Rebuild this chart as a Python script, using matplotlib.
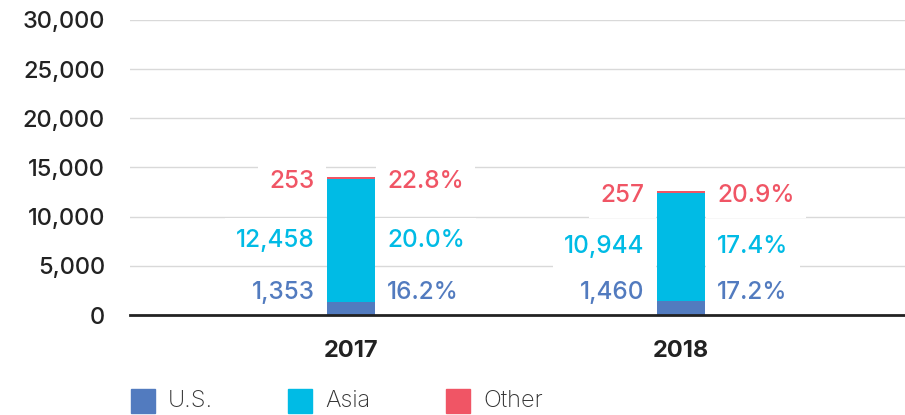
import numpy as np
import matplotlib.pyplot as plt

# Data
years = ['2017', '2018']
series = ['U.S.', 'Asia', 'Other']
us = [1353, 1460]
asia = [12458, 10944]
other = [253, 257]
us_pct = ['16.2%', '17.2%']
asia_pct = ['20.0%', '17.4%']
other_pct = ['22.8%', '20.9%']

colors = ['#527bbf', '#00bbe5', '#f05565']

plt.rcParams['font.family'] = ['Inter', 'DejaVu Sans']

fig = plt.figure(figsize=(9.05, 4.15), dpi=100)
ax = fig.add_axes([130 / 905, 1 - 315 / 415, 775 / 905, 295 / 415])

x = np.arange(len(years))
w = 0.145
values = [us, asia, other]
bottom = np.zeros(len(years))
for vals, c in zip(values, colors):
    ax.bar(x, vals, w, bottom=bottom, color=c, zorder=3)
    bottom += np.array(vals)

ax.set_ylim(0, 30000)
ax.set_xlim(-0.67, 1.68)
ax.set_yticks(range(0, 30001, 5000))
ax.set_yticklabels([f'{v:,}' for v in range(0, 30001, 5000)], fontsize=17,
                   fontweight='medium', color='#222222')
ax.tick_params(axis='y', length=0, pad=18)
ax.set_xticks(x)
ax.set_xticklabels(years, fontsize=17, fontweight='bold', color='#222222')
ax.tick_params(axis='x', length=0, pad=18)
ax.grid(axis='y', color='#d9d9d9', linewidth=1, zorder=0)
for s in ['left', 'right', 'top']:
    ax.spines[s].set_visible(False)
ax.spines['bottom'].set_color('#222222')
ax.spines['bottom'].set_linewidth(2)
ax.spines['bottom'].set_zorder(4)

box = dict(facecolor='white', edgecolor='none', pad=8)
for i in range(len(years)):
    total = us[i] + asia[i] + other[i]
    label_y = [max(us[i] / 2, 2300), us[i] + asia[i] / 2, total - 500]
    nums = [us[i], asia[i], other[i]]
    pcts = [us_pct[i], asia_pct[i], other_pct[i]]
    for y, n, p, c in zip(label_y, nums, pcts, colors):
        ax.annotate(f'{n:,}', (x[i] - w / 2, y), xytext=(-9, 0), textcoords='offset points',
                    ha='right', va='center', fontsize=17.5, fontweight='medium', color=c,
                    bbox=box, zorder=2)
        ax.annotate(p, (x[i] + w / 2, y), xytext=(9, 0), textcoords='offset points',
                    ha='left', va='center', fontsize=17.5, fontweight='medium', color=c,
                    bbox=box, zorder=2)

# Legend (placed by hand, square + label)
leg_x = [131, 288, 446]
for lx, name, c in zip(leg_x, series, colors):
    fig.patches.append(plt.Rectangle((lx / 905, 2 / 415), 24 / 905, 24 / 415,
                                     color=c, transform=fig.transFigure, figure=fig))
    fig.text((lx + 37) / 905, 14 / 415, name, ha='left', va='center', fontsize=17,
             fontweight='light', color='#333333')

fig.savefig('out.png', dpi=100)
